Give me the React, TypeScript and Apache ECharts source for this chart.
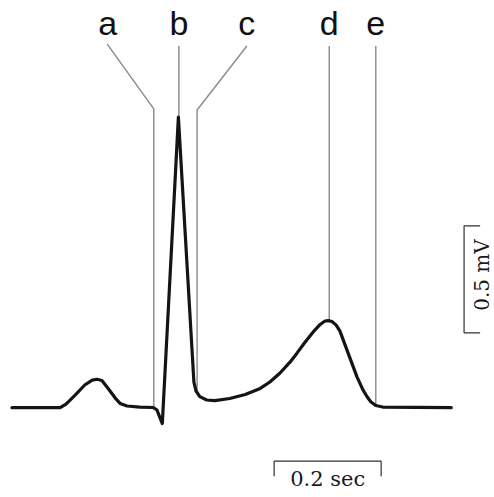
import React, { useEffect, useRef } from "react";
import * as echarts from "echarts";

// ECG trace: time (s) and amplitude (mV)
const ecgTime = [
  0, 0.09, 0.101, 0.118, 0.136, 0.15, 0.159, 0.168, 0.179, 0.193, 0.202, 0.215, 0.239, 0.264,
  0.271, 0.281, 0.311, 0.34, 0.344, 0.351, 0.364, 0.379, 0.407, 0.436, 0.464, 0.482, 0.501,
  0.52, 0.533, 0.548, 0.563, 0.576, 0.585, 0.591, 0.598, 0.606, 0.613, 0.626, 0.645, 0.656,
  0.664, 0.671, 0.68, 0.693, 0.821,
];
const ecgMv = [
  0, 0, 0.017, 0.059, 0.106, 0.129, 0.133, 0.127, 0.092, 0.045, 0.02, 0.008, 0.003, 0.001,
  -0.011, -0.074, 1.358, 0.12, 0.078, 0.052, 0.036, 0.033, 0.043, 0.062, 0.09, 0.12, 0.162,
  0.214, 0.256, 0.307, 0.354, 0.389, 0.405, 0.407, 0.403, 0.386, 0.358, 0.27, 0.143, 0.083,
  0.05, 0.027, 0.01, 0.003, 0,
];

// Marker labels and leader lines
const markerNames = ["a", "b", "c", "d", "e"];
const markerLabelTime = [0.179, 0.312, 0.439, 0.593, 0.68];
const markerLabelMv = 1.8;
const markerPathTime = [
  [0.178, 0.265, 0.265],
  [0.312, 0.312],
  [0.439, 0.346, 0.346],
  [0.593, 0.593],
  [0.68, 0.68],
];
const markerPathMv = [
  [1.699, 1.396, 0.003],
  [1.69, 1.358],
  [1.69, 1.391, 0.07],
  [1.69, 0.407],
  [1.69, 0.01],
];

// Calibration bars
const timeBarLabel = "0.2 sec";
const timeBarStart = 0.49;
const timeBarLength = 0.2;
const timeBarLevel = -0.25;
const voltBarLabel = "0.5 mV";
const voltBarStart = 0.35;
const voltBarLength = 0.5;
const voltBarTime = 0.845;

export default function App() {
  const ref = useRef<HTMLDivElement>(null);
  useEffect(() => {
    if (!ref.current) return;
    const chart = echarts.init(ref.current, null, { renderer: "svg" });
    const tickT = 0.03;
    const tickV = 0.07;

    const markerSeries = markerPathTime.map((ts, i) => ({
      type: "line",
      data: ts.map((t, j) => [t, markerPathMv[i][j]]),
      symbol: "none",
      clip: false,
      silent: true,
      lineStyle: {
        color: i === 1 ? "#555" : "#8a8a8a",
        width: i === 1 ? 1 : 1.4,
      },
      z: 1,
    }));

    chart.setOption({
      animation: false,
      grid: { left: 12, top: 1.1, width: 481.5, height: 492.2 },
      xAxis: { type: "value", min: 0, max: 0.9, show: false },
      yAxis: { type: "value", min: -0.4, max: 1.9, show: false },
      series: [
        ...markerSeries,
        {
          type: "line",
          data: ecgTime.map((t, i) => [t, ecgMv[i]]),
          symbol: "none",
          clip: false,
          lineStyle: { color: "#141414", width: 3.2, join: "round", cap: "round" },
          z: 3,
        },
        {
          type: "line",
          data: [
            [timeBarStart, timeBarLevel - tickV],
            [timeBarStart, timeBarLevel],
            [timeBarStart + timeBarLength, timeBarLevel],
            [timeBarStart + timeBarLength, timeBarLevel - tickV],
          ],
          symbol: "none",
          clip: false,
          lineStyle: { color: "#333", width: 1.2 },
        },
        {
          type: "line",
          data: [
            [voltBarTime + tickT, voltBarStart + voltBarLength],
            [voltBarTime, voltBarStart + voltBarLength],
            [voltBarTime, voltBarStart],
            [voltBarTime + tickT, voltBarStart],
          ],
          symbol: "none",
          clip: false,
          lineStyle: { color: "#333", width: 1.2 },
        },
      ],
    });

    const px = (t: number, v: number) => chart.convertToPixel({ gridIndex: 0 }, [t, v]) as number[];
    const texts: any[] = markerNames.map((n, i) => {
      const [x, y] = px(markerLabelTime[i], markerLabelMv);
      return {
        type: "text",
        x,
        y,
        style: {
          text: n,
          x: 0,
          y: 0,
          align: "center",
          verticalAlign: "middle",
          fill: "#111",
          font: '34px "Liberation Sans", Arial, sans-serif',
        },
        silent: true,
      };
    });
    const [tx, ty] = px(timeBarStart + timeBarLength / 2, timeBarLevel - 0.085);
    texts.push({
      type: "text",
      x: tx,
      y: ty,
      style: {
        text: timeBarLabel,
        align: "center",
        verticalAlign: "middle",
        fill: "#1a1a1a",
        font: '21px "DejaVu Serif", serif',
      },
      silent: true,
    });
    const [vx, vy] = px(0.879, voltBarStart + voltBarLength / 2 + 0.02);
    texts.push({
      type: "text",
      x: vx,
      y: vy,
      rotation: Math.PI / 2,
      style: {
        text: voltBarLabel,
        align: "center",
        verticalAlign: "middle",
        fill: "#1a1a1a",
        font: '20px "DejaVu Serif", serif',
      },
      silent: true,
    });
    chart.setOption({ graphic: texts });
    return () => chart.dispose();
  }, []);
  return (
    <div
      ref={ref}
      style={{ position: "fixed", left: 0, top: 0, width: 494, height: 497, background: "#fff" }}
    />
  );
}
